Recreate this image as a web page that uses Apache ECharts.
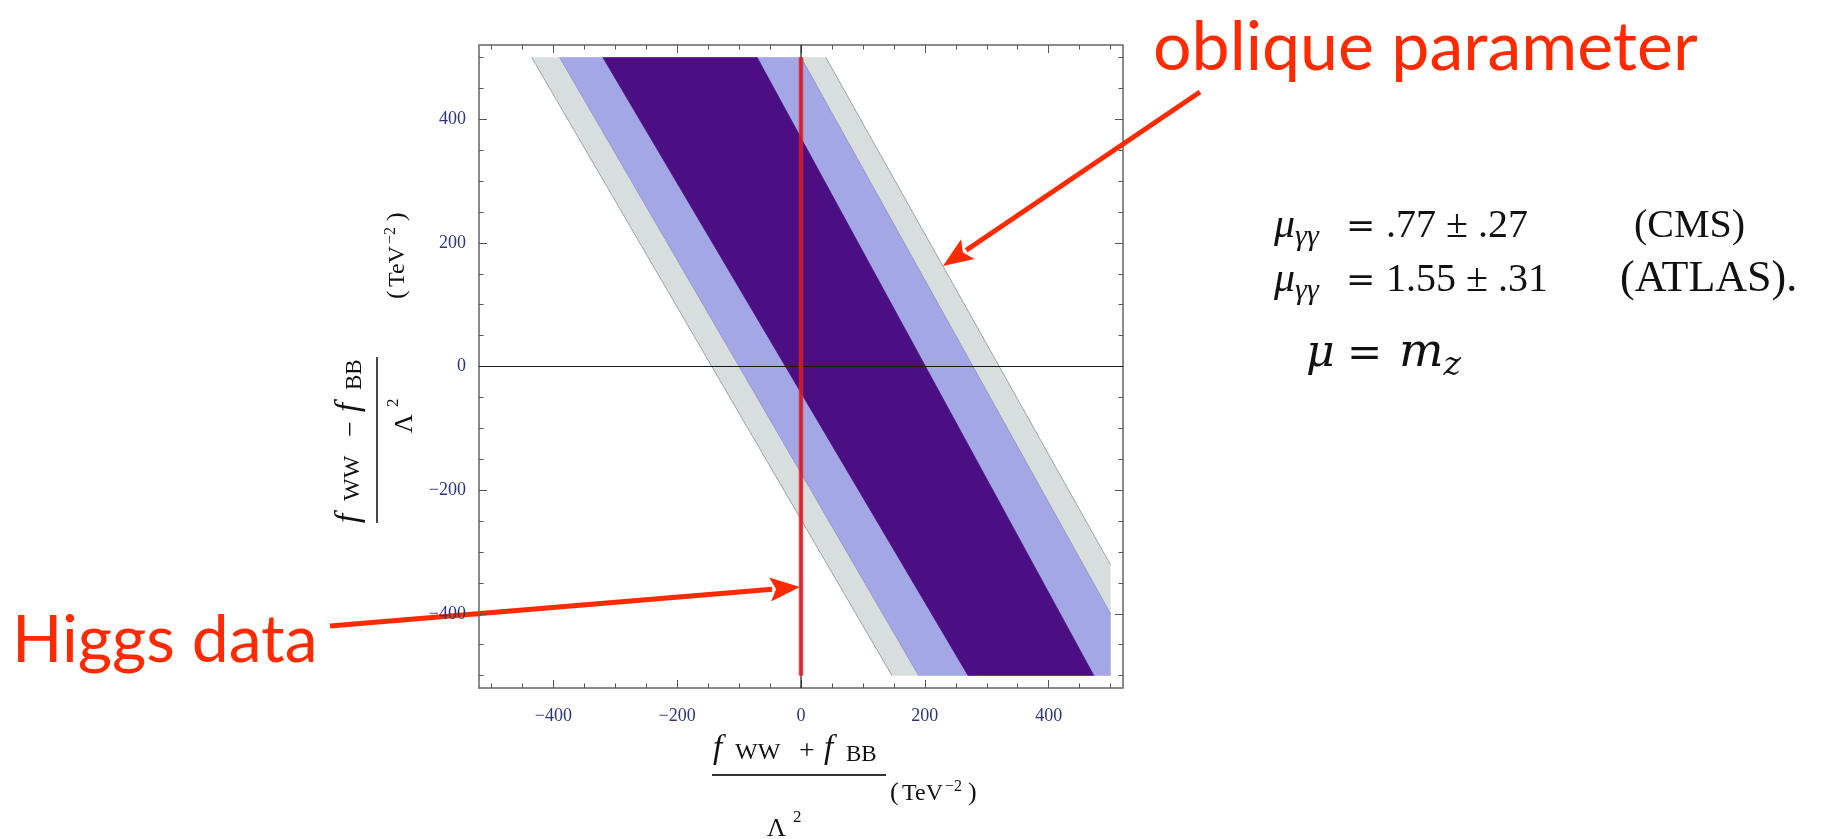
<!DOCTYPE html>
<html><head><meta charset="utf-8">
<script src="https://cdn.jsdelivr.net/npm/echarts@6/dist/echarts.min.js"></script>
<style>html,body{margin:0;padding:0;background:#fff}#c{width:1836px;height:839px}</style>
</head><body><div id="c"></div>
<script>
// ---------- data ----------
const xRange = [-520, 520];
const yRange = [-520, 520];
const majorTicks = [-400, -200, 0, 200, 400];
const minorTicks = [-500, -450, -350, -300, -250, -150, -100, -50, 50, 100, 150, 250, 300, 350, 450, 500];
const bandNames = ['outer (gray)', 'middle (light blue)', 'inner (dark)'];
const grayBand = [[-435, 500], [40, 500], [500, -321], [500, -500], [147, -500]];
const blueBand = [[-390, 500], [0, 500], [500, -400], [500, -500], [190, -500]];
const darkBand = [[-320, 500], [-71, 500], [473, -500], [270, -500]];
const higgsLine = [[0, -500], [0, 500]];
const zeroH = [[-520, 0], [520, 0]];
const zeroV = [[0, -520], [0, 520]];

// ---------- styles ----------
const bandStyles = [
  { fill: '#d8dede', edge: '#8c9191' },
  { fill: '#a3a7e5', edge: '#8f93c4' },
  { fill: '#4b0e83', edge: '#4b0e83' }
];
const bands = [grayBand, blueBand, darkBand];
const RED = '#ff2a00';
const SERIF = '"Liberation Serif", "Times New Roman", serif';
const DSERIF = '"DejaVu Serif", serif';
const SANS = 'Lato, "Open Sans", sans-serif';

const ctx = document.createElement('canvas').getContext('2d');
function tw(t, font) { ctx.font = font; return ctx.measureText(t).width; }
function fmt(v) { return v < 0 ? '\u2212' + (-v) : String(v); }

function run(t, x, base, size, opt) {
  opt = opt || {};
  const fam = opt.family || SERIF;
  const font = (opt.italic ? 'italic ' : '') + size + 'px ' + fam;
  const k = fam === SANS ? 0.39 : 0.34;
  return { type: 'text', x: x, y: base - k * size, silent: true,
    style: { text: t, font: font, fill: opt.color || '#111', align: 'left', verticalAlign: 'middle' } };
}
function seq(x, base, list) {
  const out = []; let cx = x;
  list.forEach(r => {
    if (r.at !== undefined) cx = r.at;
    const fam = r.family || SERIF;
    const font = (r.italic ? 'italic ' : '') + r.size + 'px ' + fam;
    out.push(run(r.t, cx, base + (r.dy || 0), r.size, { italic: r.italic, family: fam }));
    cx += tw(r.t, font);
  });
  return out;
}
function arrow(x1, y1, x2, y2, lw, hl, hw) {
  const dx = x2 - x1, dy = y2 - y1, L = Math.hypot(dx, dy);
  const ux = dx / L, uy = dy / L, px = -uy, py = ux;
  const bx = x2 - ux * hl, by = y2 - uy * hl;
  return [
    { type: 'line', silent: true, shape: { x1: x1, y1: y1, x2: bx + ux * 2, y2: by + uy * 2 }, style: { stroke: RED, lineWidth: lw } },
    { type: 'polygon', silent: true, shape: { points: [[x2, y2], [bx + px * hw, by + py * hw], [bx + ux * 6, by + uy * 6], [bx - px * hw, by - py * hw]] }, style: { fill: RED } }
  ];
}
// fraction title in local coords (bar center = origin); L = layout
function fractionTitle(sign, L) {
  const nb = L.numBase;
  return [
    run('f', L.numX, nb, 33, { italic: true }),
    run('WW', L.numX + 22, nb, 24),
    run(sign, L.numX + 86, nb, 28),
    run('f', L.numX + 111, nb, 33, { italic: true }),
    run('BB', L.numX + 133, nb + 2, 23),
    { type: 'line', silent: true, shape: { x1: -L.half, y1: 0, x2: L.half, y2: 0 }, style: { stroke: '#333', lineWidth: 1.8 } },
    run('(', L.tevX, L.tevBase, 26),
    run('TeV', L.tevX + 12, L.tevBase, 24),
    run('\u22122', L.tevX + 55, L.tevBase - 10, 16),
    run(')', L.tevX + 78, L.tevBase, 26),
    run('\u039B', L.lamX, L.lamBase, 26),
    run('2', L.lamX + 26, L.lamBase - 15, 17)
  ];
}

function xAxisDef(pos, ticks, len, labels) {
  return { type: 'value', min: xRange[0], max: xRange[1], position: pos, gridIndex: 0,
    axisLine: { show: false, onZero: false }, splitLine: { show: false },
    axisTick: { show: true, inside: true, length: len, customValues: ticks, lineStyle: { color: '#555', width: 1 } },
    axisLabel: labels ? { show: true, customValues: ticks, formatter: fmt, margin: 19, color: '#2a3580', fontFamily: SERIF, fontSize: 18 } : { show: false } };
}
function yAxisDef(pos, ticks, len, labels) {
  return { type: 'value', min: yRange[0], max: yRange[1], position: pos, gridIndex: 0,
    axisLine: { show: false, onZero: false }, splitLine: { show: false },
    axisTick: { show: true, inside: true, length: len, customValues: ticks, lineStyle: { color: '#555', width: 1 } },
    axisLabel: labels ? { show: true, customValues: ticks, formatter: fmt, margin: 13, color: '#2a3580', fontFamily: SERIF, fontSize: 18 } : { show: false } };
}

const graphics = [];
// y-axis title (rotated, reads bottom-to-top)
graphics.push({ type: 'group', x: 377, y: 440, rotation: Math.PI / 2,
  children: fractionTitle('\u2212', { numX: -83, numBase: -16, half: 83, tevX: 141, tevBase: 29, lamX: 7, lamBase: 37 }) });
// x-axis title
graphics.push({ type: 'group', x: 799, y: 775,
  children: fractionTitle('+', { numX: -86, numBase: -14, half: 87, tevX: 91, tevBase: 27, lamX: -32, lamBase: 63 }) });
// annotations
graphics.push(run('oblique parameter', 1153, 75, 68, { family: SANS, color: RED }));
graphics.push(run('Higgs data', 12, 666, 66, { family: SANS, color: RED }));
arrow(1200, 92, 943, 266, 5, 30, 12).forEach(e => graphics.push(e));
arrow(330, 626, 800, 587, 5, 30, 12).forEach(e => graphics.push(e));
// equations
seq(1274, 240, [{ t: '\u03BC', size: 42, italic: true }, { t: '\u03B3\u03B3', size: 30, italic: true, dy: 7 },
  { t: '=', size: 35, at: 1346, family: DSERIF }, { t: '.77 \u00B1 .27', size: 40, at: 1386 }, { t: '(CMS)', size: 40, at: 1634 }]).forEach(e => graphics.push(e));
seq(1274, 294, [{ t: '\u03BC', size: 42, italic: true }, { t: '\u03B3\u03B3', size: 30, italic: true, dy: 7 },
  { t: '=', size: 35, at: 1346, family: DSERIF }, { t: '1.55 \u00B1 .31', size: 40, at: 1386 }, { t: '(ATLAS).', size: 44, at: 1620 }]).forEach(e => graphics.push(e));
seq(1306, 370, [{ t: '\u03BC', size: 44, italic: true, family: DSERIF }, { t: '=', size: 42, at: 1347, family: DSERIF },
  { t: 'm', size: 47, italic: true, at: 1399, family: DSERIF }, { t: 'z', size: 33, italic: true, dy: 8, family: DSERIF }]).forEach(e => graphics.push(e));

const option = {
  animation: false,
  backgroundColor: '#ffffff',
  grid: { left: 479, top: 45, width: 644, height: 643, show: true, borderColor: '#666', borderWidth: 1.5, backgroundColor: 'transparent' },
  xAxis: [xAxisDef('bottom', majorTicks, 8, true), xAxisDef('bottom', minorTicks, 4.5, false),
          xAxisDef('top', majorTicks, 8, false), xAxisDef('top', minorTicks, 4.5, false)],
  yAxis: [yAxisDef('left', majorTicks, 8, true), yAxisDef('left', minorTicks, 4.5, false),
          yAxisDef('right', majorTicks, 8, false), yAxisDef('right', minorTicks, 4.5, false)],
  series: [
    { type: 'custom', name: 'bands', xAxisIndex: 0, yAxisIndex: 0, z: 2, silent: true,
      data: bandNames.map((n, i) => ({ name: n, value: [i, 0] })),
      renderItem: function (params, api) {
        const i = params.dataIndex;
        const pts = bands[i].map(p => api.coord(p));
        const st = bandStyles[i];
        const n = pts.length;
        return { type: 'group', children: [
          { type: 'polygon', shape: { points: pts }, style: { fill: st.fill } },
          { type: 'polyline', shape: { points: [pts[0], pts[n - 1]] }, style: { stroke: st.edge, lineWidth: 0.8, fill: null } },
          { type: 'polyline', shape: { points: [pts[1], pts[2]] }, style: { stroke: st.edge, lineWidth: 0.8, fill: null } }
        ] };
      } },
    { type: 'line', name: 'axisH', data: zeroH, xAxisIndex: 0, yAxisIndex: 0, z: 3, symbol: 'none', silent: true,
      lineStyle: { color: '#1a1a1a', width: 1.2 } },
    { type: 'line', name: 'axisV', data: zeroV, xAxisIndex: 0, yAxisIndex: 0, z: 3, symbol: 'none', silent: true,
      lineStyle: { color: '#1a1a1a', width: 1.2 } },
    { type: 'line', name: 'Higgs data', data: higgsLine, xAxisIndex: 0, yAxisIndex: 0, z: 4, symbol: 'none', silent: true,
      lineStyle: { color: 'rgba(228,28,40,0.82)', width: 4.5 } }
  ],
  graphic: graphics
};
const chart = echarts.init(document.getElementById('c'), null, { renderer: 'canvas' });
chart.setOption(option);
</script></body></html>
